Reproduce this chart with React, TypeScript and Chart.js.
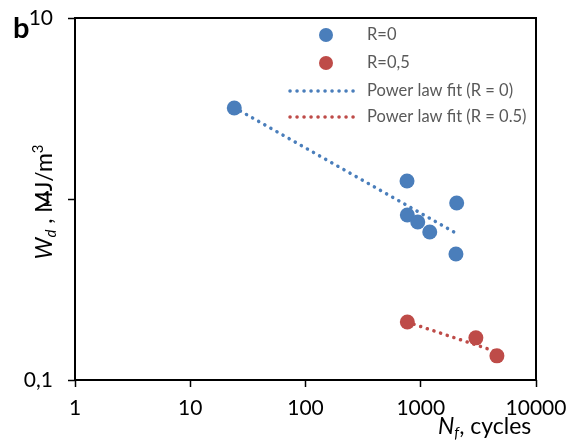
import React, { useEffect, useRef } from "react";
import { Chart, registerables } from "chart.js";

Chart.register(...registerables);

// ---- data ----
const blueN = [24.1, 760, 765, 942, 1197, 2050, 2020];
const blueW = [3.18, 1.257, 0.816, 0.746, 0.657, 0.95, 0.497];
const redN = [765, 3008, 4580];
const redW = [0.209, 0.171, 0.136];
const fitBlueN = [24.1, 2000];
const fitBlueW = [3.2, 0.65];
const fitRedN = [765, 4580];
const fitRedW = [0.209, 0.143];
const xTicks = [1, 10, 100, 1000, 10000];
const yTicks = [0.1, 1, 10];
const legendLabels = ["R=0", "R=0,5", "Power law fit (R = 0)", "Power law fit (R = 0.5)"];

const BLUE = "#4A7EBB";
const RED = "#BE4B48";
const FONT = "Lato";

const toPts = (xs: number[], ys: number[]) => xs.map((x, i) => ({ x, y: ys[i] }));

const overlay = {
  id: "overlay",
  afterDraw(chart: any) {
    const ctx = chart.ctx as CanvasRenderingContext2D;
    const a = chart.chartArea;
    ctx.save();
    // plot box
    ctx.strokeStyle = "#000";
    ctx.lineWidth = 2;
    ctx.strokeRect(a.left, a.top, a.right - a.left, a.bottom - a.top);

    // legend
    const lx = 290, lx2 = 360, tx = 367;
    const rows = [35, 63, 91, 117];
    ctx.font = `16.5px ${FONT}`;
    ctx.textBaseline = "middle";
    ctx.textAlign = "left";
    rows.forEach((ry, i) => {
      const col = i % 2 === 0 ? BLUE : RED;
      if (i < 2) {
        ctx.fillStyle = col;
        ctx.beginPath();
        ctx.arc(326, ry, 7, 0, Math.PI * 2);
        ctx.fill();
      } else {
        ctx.strokeStyle = col;
        ctx.lineWidth = 3.5;
        ctx.lineCap = "round";
        ctx.setLineDash([0.1, 6.9]);
        ctx.beginPath();
        ctx.moveTo(lx, ry);
        ctx.lineTo(lx2, ry);
        ctx.stroke();
        ctx.setLineDash([]);
      }
      ctx.fillStyle = "#595959";
      ctx.fillText(legendLabels[i], tx, ry);
    });

    // "b"
    ctx.fillStyle = "#000";
    ctx.font = `bold 29px ${FONT}`;
    ctx.textBaseline = "alphabetic";
    ctx.fillText("b", 13, 38);

    let x = 0;
    const seg = (t: string, font: string, dy: number) => {
      ctx.font = font;
      ctx.fillText(t, x, dy);
      x += ctx.measureText(t).width;
    };

    // y title (rotated), positioned so that "M" is centred near y=202
    const fBig = `23px ${FONT}`;
    const fBigI = `italic 23px ${FONT}`;
    const fSmI = `italic 15px ${FONT}`;
    ctx.font = fBigI;
    const wW = ctx.measureText("W").width;
    ctx.font = fSmI;
    const wd = ctx.measureText("d").width;
    ctx.font = fBig;
    const wPre = ctx.measureText(" , ").width;
    const wM = ctx.measureText("M").width;
    const mCenter = wW + wd + wPre + wM / 2;
    ctx.save();
    ctx.translate(52, 202 + mCenter);
    ctx.rotate(-Math.PI / 2);
    x = 0;
    seg("W", fBigI, 0);
    seg("d", fSmI, 4);
    seg(" , MJ/m", fBig, 0);
    seg("3", `15px ${FONT}`, -9);
    ctx.restore();

    // x title
    ctx.save();
    ctx.translate(438, 434);
    x = 0;
    seg("N", `italic 23px ${FONT}`, 0);
    seg("f", `italic 15px ${FONT}`, 4);
    seg(", cycles", `23px ${FONT}`, 0);
    ctx.restore();

    ctx.restore();
  },
};

export default function App() {
  const ref = useRef<HTMLCanvasElement | null>(null);
  useEffect(() => {
    if (!ref.current) return;
    const fmt = (v: any) => String(v).replace(".", ",");
    const chart = new Chart(ref.current, {
      type: "scatter",
      data: {
        datasets: [
          {
            label: legendLabels[0],
            data: toPts(blueN, blueW),
            backgroundColor: BLUE,
            borderColor: BLUE,
            pointRadius: 7.5,
            pointBorderWidth: 0,
            order: 1,
          },
          {
            label: legendLabels[1],
            data: toPts(redN, redW),
            backgroundColor: RED,
            borderColor: RED,
            pointRadius: 7.5,
            pointBorderWidth: 0,
            order: 1,
          },
          {
            label: legendLabels[2],
            data: toPts(fitBlueN, fitBlueW),
            showLine: true,
            borderColor: BLUE,
            borderWidth: 3.5,
            borderDash: [0.1, 6.9],
            borderCapStyle: "round",
            pointRadius: 0,
            order: 2,
          } as any,
          {
            label: legendLabels[3],
            data: toPts(fitRedN, fitRedW),
            showLine: true,
            borderColor: RED,
            borderWidth: 3.5,
            borderDash: [0.1, 6.9],
            borderCapStyle: "round",
            pointRadius: 0,
            order: 2,
          } as any,
        ],
      },
      options: {
        animation: false,
        responsive: false,
        devicePixelRatio: 1,
        layout: { padding: { left: 0, right: 42, top: 18, bottom: 0 } },
        plugins: { legend: { display: false }, tooltip: { enabled: false } },
        scales: {
          x: {
            type: "logarithmic",
            min: 1,
            max: 10000,
            position: "bottom",
            border: { display: false },
            grid: {
              display: true,
              drawOnChartArea: false,
              drawTicks: true,
              tickLength: 7,
              tickWidth: 1.5,
              tickColor: "#000",
            },
            ticks: {
              color: "#000",
              font: { family: FONT, size: 21 },
              padding: 9,
              autoSkip: false,
              maxRotation: 0,
              callback: fmt,
            },
            afterBuildTicks: (s: any) => {
              s.ticks = xTicks.map((v) => ({ value: v }));
            },
            afterFit: (s: any) => {
              s.height = 65;
              s.paddingLeft = 0;
              s.paddingRight = 0;
            },
          },
          y: {
            type: "logarithmic",
            min: 0.1,
            max: 10,
            border: { display: false },
            grid: {
              display: true,
              drawOnChartArea: false,
              drawTicks: true,
              tickLength: 7,
              tickWidth: 1.5,
              tickColor: "#000",
            },
            ticks: {
              color: "#000",
              font: { family: FONT, size: 21 },
              padding: 15,
              autoSkip: false,
              callback: fmt,
            },
            afterBuildTicks: (s: any) => {
              s.ticks = yTicks.map((v) => ({ value: v }));
            },
            afterFit: (s: any) => {
              s.width = 75;
              s.paddingTop = 0;
              s.paddingBottom = 0;
            },
          },
        },
      },
      plugins: [overlay],
    } as any);
    return () => chart.destroy();
  }, []);
  return (
    <div style={{ position: "absolute", left: 0, top: 0, width: 578, height: 445, background: "#fff" }}>
      <canvas ref={ref} width={578} height={445} style={{ width: 578, height: 445, display: "block" }} />
    </div>
  );
}
